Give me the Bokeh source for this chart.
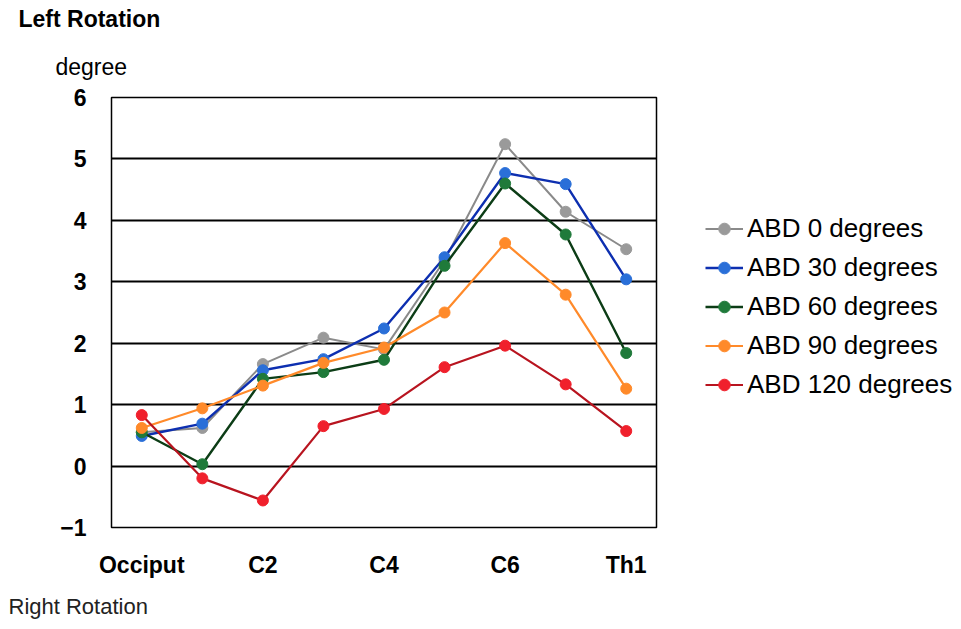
from bokeh.plotting import figure
from bokeh.layouts import row
from bokeh.models import (Legend, LegendItem, Title, FactorRange, Range1d, FixedTicker,
                          CustomJSTickFormatter)
from bokeh.embed import file_html
from bokeh.resources import INLINE

categories = ["Occiput", "C1", "C2", "C3", "C4", "C5", "C6", "C7", "Th1"]
shown_ticks = ["Occiput", "C2", "C4", "C6", "Th1"]
y_ticks = [-1, 0, 1, 2, 3, 4, 5, 6]

abd0 = [0.55, 0.62, 1.66, 2.09, 1.90, 3.35, 5.24, 4.14, 3.53]
abd30 = [0.49, 0.69, 1.56, 1.74, 2.24, 3.40, 4.77, 4.59, 3.04]
abd60 = [0.55, 0.03, 1.42, 1.53, 1.73, 3.26, 4.60, 3.77, 1.84]
abd90 = [0.62, 0.94, 1.31, 1.68, 1.93, 2.50, 3.63, 2.79, 1.26]
abd120 = [0.83, -0.20, -0.56, 0.65, 0.93, 1.61, 1.96, 1.33, 0.57]

series = [
    ("ABD 0 degrees", abd0, "#8a8a8a", "#9a9a9a", 2.0),
    ("ABD 30 degrees", abd30, "#0d2fb0", "#2a6fd8", 2.4),
    ("ABD 60 degrees", abd60, "#0c3d16", "#1f7a3a", 2.4),
    ("ABD 90 degrees", abd90, "#ff8a2a", "#ff8a2a", 2.2),
    ("ABD 120 degrees", abd120, "#b8141f", "#f0202c", 2.2),
]

FONT = "Liberation Sans"

# main chart
p = figure(width=705, height=629, x_range=FactorRange(factors=categories, range_padding=0),
           y_range=Range1d(-1, 6), output_backend="svg", toolbar_location=None,
           min_border_left=111, min_border_right=49, min_border_top=97, min_border_bottom=102)
p.background_fill_color = "white"
p.border_fill_color = "white"
p.outline_line_color = "black"
p.outline_line_width = 1.5

p.xgrid.grid_line_color = None
p.ygrid.grid_line_color = "black"
p.ygrid.grid_line_width = 2
p.yaxis.ticker = FixedTicker(ticks=y_ticks)

for ax in (p.xaxis[0], p.yaxis[0]):
    ax.axis_line_color = None
    ax.major_tick_line_color = None
    ax.minor_tick_line_color = None
    ax.major_tick_out = 0
    ax.major_tick_in = 0
    ax.major_label_text_font = FONT
    ax.major_label_text_font_style = "bold"
    ax.major_label_text_font_size = "23px"
    ax.major_label_text_color = "black"
p.yaxis.major_label_standoff = 25
p.xaxis.major_label_standoff = 24
p.xaxis.formatter = CustomJSTickFormatter(args=dict(shown=shown_ticks),
                                          code="return shown.includes(tick) ? tick : '';")

for name, vals, lc, mc, lw in series:
    p.line(categories, vals, line_color=lc, line_width=lw)
    p.scatter(categories, vals, marker="circle", size=11, fill_color=mc, line_color=mc)

p.add_layout(Title(text="degree", align="left", offset=-56, text_font=FONT,
                   text_font_style="normal", text_font_size="23px", text_color="black",
                   standoff=36), "above")
p.add_layout(Title(text="Left Rotation", align="left", vertical_align="top", offset=-93,
                   text_font=FONT, text_font_style="bold", text_font_size="23px",
                   text_color="black", standoff=0), "above")
p.add_layout(Title(text="Right Rotation", align="left", offset=-103, text_font=FONT,
                   text_font_style="normal", text_font_size="22px", text_color="#222222",
                   standoff=22), "below")

# legend panel (frame aligned with the main chart)
q = figure(width=256, height=629, output_backend="svg", toolbar_location=None,
           x_range=FactorRange(factors=categories), y_range=Range1d(100, 101),
           x_axis_type=None, y_axis_type=None, min_border=0)
q.outline_line_color = None
q.background_fill_color = "white"
q.border_fill_color = "white"

items = []
for name, vals, lc, mc, lw in series:
    r1 = q.line(categories, vals, line_color=lc, line_width=lw)
    r2 = q.scatter(categories, vals, marker="circle", size=11, fill_color=mc, line_color=mc)
    items.append(LegendItem(label=name, renderers=[r1, r2]))

legend = Legend(items=items, location=(0, 127), label_text_font=FONT,
                label_text_font_size="26px", label_text_color="black",
                glyph_width=38, glyph_height=29, label_height=29, spacing=8,
                label_standoff=4, padding=0, margin=0, border_line_color=None,
                background_fill_alpha=0)
q.add_layout(legend, "center")

layout = row(p, q, spacing=0)
open("out.html", "w").write(file_html(layout, INLINE))
